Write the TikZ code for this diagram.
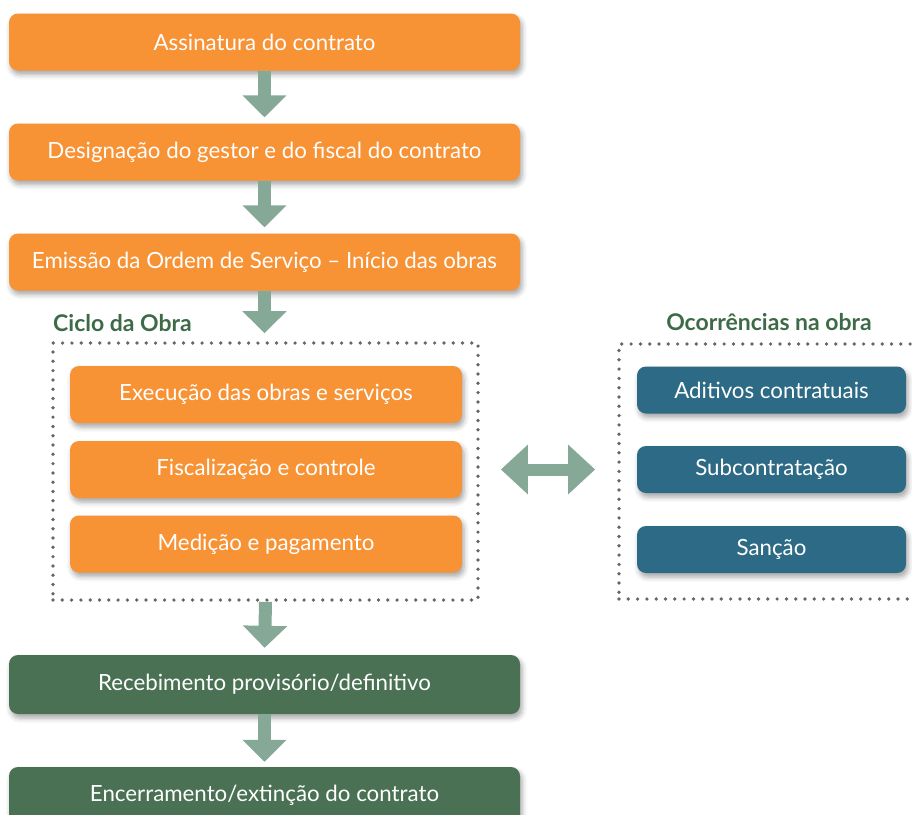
\documentclass[tikz,border=0pt]{standalone}
\usepackage{fontspec}
\setmainfont{Lato}
\usetikzlibrary{arrows.meta,shadows.blur,calc}
\definecolor{orng}{HTML}{F79235}
\definecolor{teal}{HTML}{2D6A85}
\definecolor{dgreen}{HTML}{4A7153}
\definecolor{arrc}{HTML}{86A897}
\definecolor{lblg}{HTML}{3E6B47}
\definecolor{dotg}{HTML}{65666A}
\tikzset{
  box/.style={rectangle, rounded corners=9pt, text=white, font=\fontsize{22.3}{26}\selectfont, inner sep=0pt,
    blur shadow={shadow xshift=2pt, shadow yshift=-4pt, shadow blur radius=5pt, shadow opacity=35}},
  obox/.style={box, fill=orng},
  tbox/.style={box, fill=teal},
  gbox/.style={box, fill=dgreen},
  dotbox/.style={rectangle, draw=dotg, line width=3.7pt, line cap=round, dash pattern=on 0pt off 9.3pt, inner sep=0pt},
  flow/.style={draw=arrc, line width=13pt, -{Triangle[width=43pt,length=22pt]}},
  both/.style={draw=arrc, line width=12pt, {Triangle[width=48pt,length=27pt]}-{Triangle[width=48pt,length=27pt]}},
  lbl/.style={text=lblg, font=\bfseries\fontsize{23}{26}\selectfont, inner sep=0pt},
}
\begin{document}
\begin{tikzpicture}[x=1pt,y=-1pt]
\useasboundingbox (0,0) rectangle (912,814);
% top boxes
\node[obox, minimum width=511pt, minimum height=57pt] (a) at (264.5,42) {Assinatura do contrato};
\node[obox, minimum width=511pt, minimum height=57pt] (b) at (264.5,152) {Designação do gestor e do fiscal do contrato};
\node[obox, minimum width=511pt, minimum height=57pt] (c) at (264.5,262) {Emissão da Ordem de Serviço – Início das obras};
% cycle
\node[dotbox, minimum width=425pt, minimum height=257pt] (cyc) at (265.5,471.5) {};
\node[lbl, anchor=west] (cycl) at (53,323) {Ciclo da Obra};
\node[obox, minimum width=392pt, minimum height=57pt] (e1) at (266,394.5) {Execução das obras e serviços};
\node[obox, minimum width=392pt, minimum height=57pt] (e2) at (266,469.5) {Fiscalização e controle};
\node[obox, minimum width=392pt, minimum height=57pt] (e3) at (266,544) {Medição e pagamento};
% occurrences
\node[dotbox, minimum width=311pt, minimum height=255pt] (occ) at (774.5,471.5) {};
\node[lbl] (occl) at (769,322) {Ocorrências na obra};
\node[tbox, minimum width=269pt, minimum height=47pt] (o1) at (771.5,390) {Aditivos contratuais};
\node[tbox, minimum width=269pt, minimum height=47pt] (o2) at (771.5,469.5) {Subcontratação};
\node[tbox, minimum width=269pt, minimum height=47pt] (o3) at (771.5,549.5) {Sanção};
% bottom
\node[gbox, minimum width=511pt, minimum height=59pt] (r) at (264.5,684.5) {Recebimento provisório/definitivo};
\node[gbox, minimum width=511pt, minimum height=57pt] (f) at (264.5,795.5) {Encerramento/extinção do contrato};
% arrows
\path[flow, shorten >=6pt] (a.south) -- (b.north);
\path[flow, shorten >=6pt] (b.south) -- (c.north);
\path[flow, shorten >=8pt] (c.south) -- (c.south |- cyc.north);
\path[flow, shorten >=7pt] (cyc.south) -- (r.north);
\path[flow, shorten >=5pt] (r.south) -- (f.north);
\path[both, shorten <=21pt, shorten >=22pt] (cyc.east |- e2) -- (occ.west |- e2);
\end{tikzpicture}
\end{document}
